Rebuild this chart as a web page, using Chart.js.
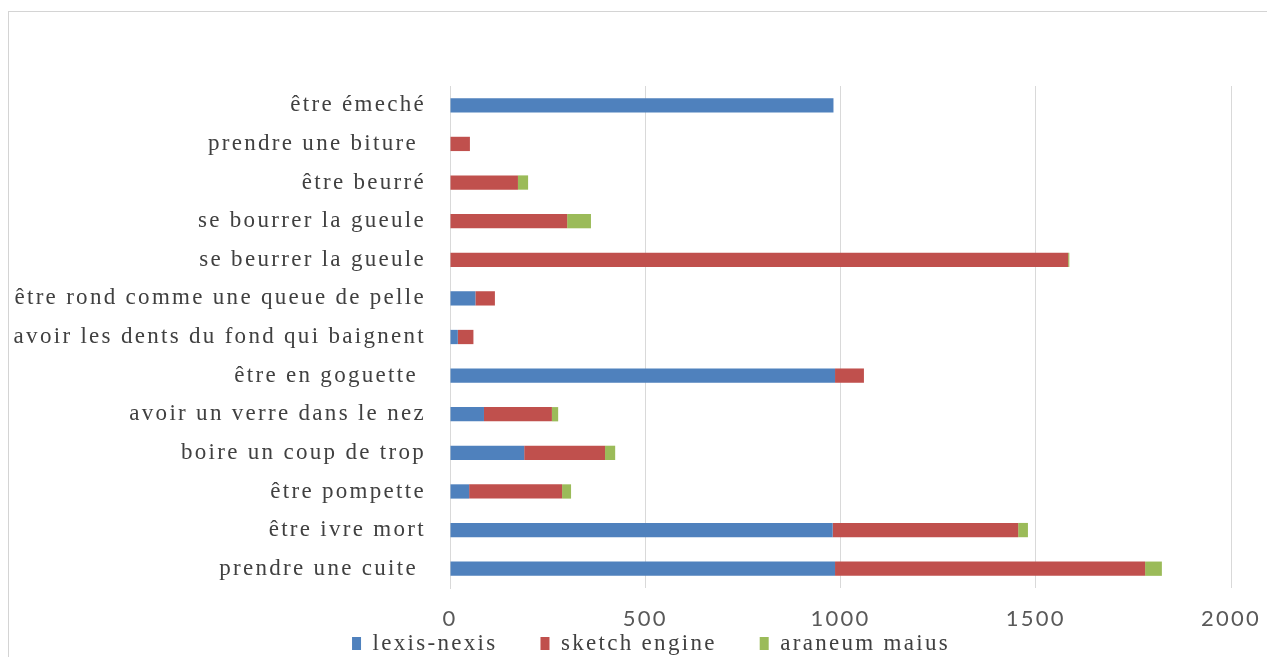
<!DOCTYPE html>
<html>
<head>
<meta charset="utf-8">
<script src="https://cdn.jsdelivr.net/npm/chart.js@4/dist/chart.umd.min.js"></script>
<style>
  html, body { margin: 0; padding: 0; background: #fff; overflow: hidden; }
  #frame { position: absolute; left: 8px; top: 11px; width: 1300px; height: 700px; border: 1px solid #d4d4d4; pointer-events: none; }
  #chart { position: absolute; left: 0; top: 0; }
</style>
</head>
<body>
<div id="frame"></div>
<canvas id="chart" width="1267" height="657"></canvas>
<script>
// expressions, listed top to bottom
const expressions = [
    "être émeché",
    "prendre une biture ",
    "être beurré",
    "se bourrer la gueule",
    "se beurrer la gueule",
    "être rond comme une queue de pelle",
    "avoir les dents du fond qui baignent",
    "être en goguette ",
    "avoir un verre dans le nez",
    "boire un coup de trop",
    "être pompette",
    "être ivre mort",
    "prendre une cuite "
];

const lexisNexis   = [982, 0, 0, 0, 0, 65, 20, 986, 87, 190, 49, 980, 986];
const sketchEngine = [0, 51, 174, 300, 1583, 50, 40, 74, 174, 207, 238, 475, 794];
const araneumMaius = [0, 0, 26, 61, 3, 0, 0, 0, 16, 26, 23, 25, 43];

const xTicks = [0, 500, 1000, 1500, 2000];

const serif = "'Liberation Serif', 'Times New Roman', serif";

// wider text spacing for all labels
const spacing = {
    id: "spacing",
    beforeUpdate(chart) { chart.ctx.letterSpacing = "2.3px"; },
    beforeDraw(chart) { chart.ctx.letterSpacing = "2.3px"; }
};

// let the x labels run below the axis box, and centre the legend under the whole figure
const placement = {
    id: "placement",
    afterLayout(chart) {
        chart.scales.x.bottom = chart.height;
        chart.legend.left = 71;
    }
};

const ctx = document.getElementById("chart").getContext("2d");

new Chart(ctx, {
    type: "bar",
    data: {
        labels: expressions,
        datasets: [
            { label: "lexis-nexis", data: lexisNexis, backgroundColor: "#4f81bd" },
            { label: "sketch engine", data: sketchEngine, backgroundColor: "#c0504d" },
            { label: "araneum maius", data: araneumMaius, backgroundColor: "#9bbb59" }
        ]
    },
    options: {
        indexAxis: "y",
        responsive: false,
        animation: false,
        categoryPercentage: 1,
        barPercentage: 0.37,
        layout: { padding: { top: 86, left: 0, right: 36, bottom: 0 } },
        plugins: {
            tooltip: { enabled: false },
            legend: {
                position: "bottom",
                maxHeight: 68,
                labels: {
                    boxWidth: 9,
                    boxHeight: 13,
                    padding: 43,
                    color: "#404040",
                    font: { family: serif, size: 23 }
                }
            }
        },
        scales: {
            x: {
                stacked: true,
                min: 0,
                max: 2000,
                afterFit(scale) {
                    scale.height = 1;
                    scale.paddingLeft = 0;
                    scale.paddingRight = 0;
                },
                afterBuildTicks(scale) { scale.ticks = xTicks.map(v => ({ value: v })); },
                grid: { color: "#d9d9d9", drawTicks: false },
                border: { display: false },
                ticks: {
                    padding: 18,
                    color: "#595959",
                    font: { family: "Lato, 'Open Sans', sans-serif", size: 22 },
                    callback: v => String(v)
                }
            },
            y: {
                stacked: true,
                afterFit(scale) { scale.width = 450; },
                grid: { display: false, drawTicks: false },
                border: { display: true, color: "#d9d9d9" },
                ticks: {
                    padding: 24,
                    color: "#404040",
                    font: { family: serif, size: 23 }
                }
            }
        }
    },
    plugins: [spacing, placement]
});
</script>
</body>
</html>
